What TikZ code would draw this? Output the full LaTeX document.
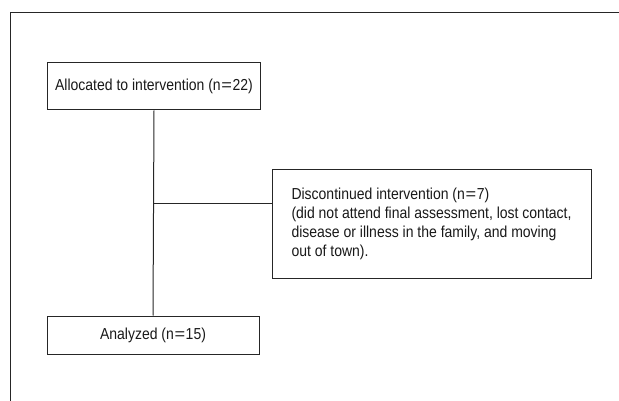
\documentclass[tikz,border=0pt]{standalone}
\usepackage{graphicx}
\usepackage{fontspec}
\setmainfont[FakeStretch=0.88]{Liberation Sans}
\usetikzlibrary{calc}
\newcommand{\wideeq}{\kern0.6pt\scalebox{1.3}[1]{=}\kern0.6pt}
\begin{document}
\begin{tikzpicture}[x=1pt,y=-1pt,
  line/.style={line width=1pt, draw=black!85},
  box/.style={draw=black!85, line width=1pt, inner sep=0pt, text=black!90, font=\fontsize{15.9}{19.2}\selectfont}]
\useasboundingbox (0,0) rectangle (619,401);
\draw[line] (10,401) -- (10,13) -- (619,13);
\node[box, minimum width=213, minimum height=47] (alloc) at (154,86.5) {Allocated to intervention (n\wideeq 22)};
\node[box, minimum width=212, minimum height=38] (anal) at (153,335) {Analyzed (n\wideeq 15)};
\node[box, minimum width=319, minimum height=109, align=left] (disc) at (431.5,223.7)
  {Discontinued intervention (n\wideeq 7)\\(did not attend final assessment, lost contact,\\disease or illness in the family, and moving\\out of town).};
\draw[line] (alloc.south) -- (anal.north);
\coordinate (j) at ($(disc.north west)!0.32!(disc.south west)$);
\draw[line] (j) -- (j -| alloc.south);
\end{tikzpicture}
\end{document}
